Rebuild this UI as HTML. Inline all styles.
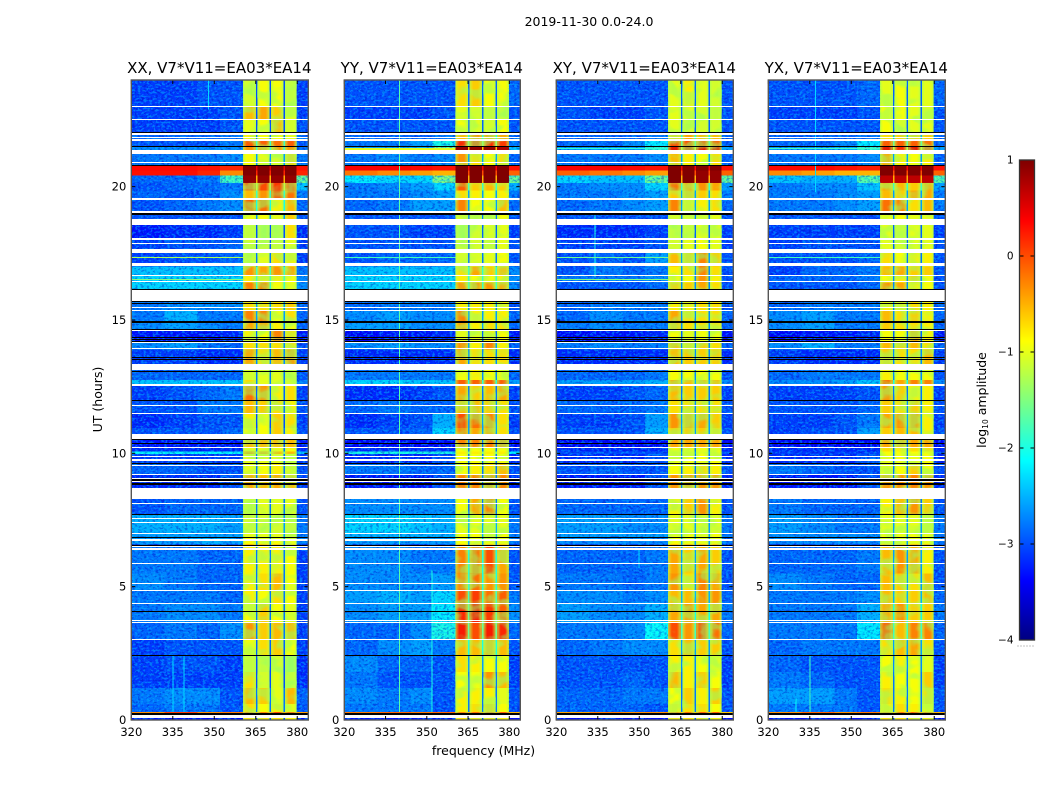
<!DOCTYPE html>
<html>
<head>
<meta charset="utf-8">
<title>2019-11-30 0.0-24.0</title>
<style>
html,body{margin:0;padding:0;background:#fff;}
svg{display:block;}
text{font-family:"DejaVu Sans","Liberation Sans",sans-serif;fill:#000;}
</style>
</head>
<body>
<svg id="chart" width="1050" height="800" viewBox="0 0 1050 800" xmlns="http://www.w3.org/2000/svg">
<defs id="defs">
<filter id="speckle-dark" x="0" y="0" width="100%" height="100%" color-interpolation-filters="sRGB">
<feTurbulence type="fractalNoise" baseFrequency="0.34 0.5" numOctaves="2" seed="4"/>
<feColorMatrix type="matrix" values="0 0 0 0 0  0 0 0 0 0.05  0 0 0 0 0.75  7 0 0 0 -3.6"/>
</filter>
<filter id="speckle-light" x="0" y="0" width="100%" height="100%" color-interpolation-filters="sRGB">
<feTurbulence type="fractalNoise" baseFrequency="0.34 0.5" numOctaves="2" seed="11"/>
<feColorMatrix type="matrix" values="0 0 0 0 0  0 0 0 0 0.72  0 0 0 0 1  7 0 0 0 -3.5"/>
</filter>
<filter id="band-blotch" x="0" y="0" width="100%" height="100%" color-interpolation-filters="sRGB">
<feTurbulence type="fractalNoise" baseFrequency="0.05 0.08" numOctaves="2" seed="7"/>
<feColorMatrix type="matrix" values="0 0 0 0 0.55  0 0 0 0 1  0 0 0 0 0.42  6 0 0 0 -2.8"/>
</filter>
<linearGradient id="band-edge" x1="0" y1="0" x2="1" y2="0">
<stop offset="0" stop-color="#a5ff5a" stop-opacity="0.75"/>
<stop offset="0.3" stop-color="#e8ff20" stop-opacity="0.1"/>
<stop offset="0.7" stop-color="#e8ff20" stop-opacity="0.1"/>
<stop offset="1" stop-color="#a5ff5a" stop-opacity="0.75"/>
</linearGradient>
</defs>
<text x="589" y="26" font-size="12.5" text-anchor="middle">2019-11-30 0.0-24.0</text>
<text x="483.5" y="755" font-size="12.5" text-anchor="middle">frequency (MHz)</text>
<text x="0" y="0" font-size="12.5" text-anchor="middle" transform="translate(102,399.5) rotate(-90)">UT (hours)</text>
<text x="0" y="0" font-size="12.5" text-anchor="middle" transform="translate(986,400) rotate(-90)">log<tspan font-size="7.5" dy="2">10</tspan><tspan dy="-2"> amplitude</tspan></text>
<g id="panels"></g>
<g id="colorbar"></g>
</svg>
<script>
// ---- chart data -----------------------------------------------------------
const panelTitles = ["XX, V7*V11=EA03*EA14","YY, V7*V11=EA03*EA14","XY, V7*V11=EA03*EA14","YX, V7*V11=EA03*EA14"];
const freqTicks = [320,335,350,365,380];
const utTicks = [0,5,10,15,20];
const colorbarTicks = [1,0,-1,-2,-3,-4];
// frequency channels of the level columns: [from MHz, to MHz]
const freqBins = [[320,332],[332,344],[344,352],[352,360.4],[360.4,365],[365.6,370],[370.6,375],[375.6,379.8],[365,365.6],[370,370.6],[375,375.6],[379.8,384]];
// row boundaries in UT hours, top to bottom
const utEdges = [24,23,22.5,22,21.75,21.5,21.3,20.8,20.6,20.42,20.14,19.85,19.5,19.03,18.57,18,17.52,17,16.65,16.4,15.7,15.35,14.9,14.6,14.15,13.9,13.35,12.75,12.55,12,11.5,10.95,10.55,10.2,10.06,9.98,9.6,9.2,8.28,7.7,7,6.85,6.58,6.5,5.5,4.85,4.35,3.65,3,2.4,1.8,1.2,0.6,0.3,0.2,0];
// flagged intervals [UT top, UT bottom]
const whiteFlags = [[23.025,22.98],[22.556,22.5],[22.01,21.94],[21.86,21.81],[21.77,21.71],[21.375,21.225],[20.925,20.89],[19.575,19.5],[19.09,19.03],[18.79,18.57],[18.06,18],[17.9,17.85],[17.66,17.52],[17.14,17.04],[16.67,16.62],[16.46,16.41],[16.14,15.72],[15.47,15.42],[15.375,15.34],[14.64,14.6],[14.19,14.14],[13.94,13.89],[13.35,13.125],[12.6,12.525],[11.8,11.75],[11.5,11.45],[10.725,10.54],[10.25,10.2],[9.9,9.85],[9.78,9.72],[9.57,9.525],[9.225,9.18],[9.06,9.03],[8.96,8.93],[8.69,8.28],[8.15,8.1],[7.59,7.56],[7.41,7.38],[7.02,6.99],[6.78,6.72],[6.525,6.49],[6.46,6.39],[5.89,5.85],[5.14,5.1],[4.875,4.84],[4.39,4.35],[3.74,3.71],[3.67,3.63],[3.04,3],[0.19,0.09]];
const blackFlags = [[22.05,22.01],[21.525,21.47],[20.81,20.76],[19.02,18.94],[16.16,16.14],[15.71,15.675],[15.65,15.6],[14.97,14.9],[14.66,14.64],[14.375,14.325],[14.3,14.27],[14.21,14.19],[13.62,13.6],[13.54,13.51],[13.1,13.08],[12,11.96],[10.53,10.5],[10.375,10.325],[9.63,9.59],[9.02,8.96],[8.89,8.81],[7.71,7.68],[6.86,6.83],[6.55,6.525],[4.09,4.06],[2.42,2.39],[0.25,0.19]];
// narrow interference channels per panel: [MHz, UT from, UT to, level]
const xxChannels = [[348,22.9,24,-2.3],[335,0.3,2.4,-2.3],[339,0.3,2.4,-2.3]];
const yyChannels = [[340,0.3,24,-1.7],[351.8,0.3,5.6,-2.0]];
const xyChannels = [[334,16.6,19,-2.0],[349.9,5.7,6.4,-2.3]];
const yxChannels = [[335,0.3,2.4,-1.8],[330,0.3,0.8,-2.1],[337,19.8,24,-2.3]];
// thin off-band streaks per panel: [UT top, UT bottom, level]
const xxStreaks = [[17.36,17.32,-1.3],[16.55,16.52,-1.5]];
const yyStreaks = [[21.45,21.38,-1.0],[17.36,17.32,-1.8]];
const xyStreaks = [[21.45,21.41,-1.9],[17.36,17.32,-1.6],[16.55,16.52,-1.5]];
const yxStreaks = [[21.45,21.41,-1.8],[17.36,17.32,-1.8]];
// log10 amplitude per row: 320-332,332-344,344-352,352-360, sub1..sub4, gap, 380-384
const xxLevels = [
[-3.1,-3.1,-3.0,-3.0,-1.1,-0.9,-0.9,-1.2,-2.6,-3.1],
[-3.1,-3.1,-3.1,-3.0,-0.5,-0.4,-0.6,-1.0,-2.6,-3.1],
[-3.1,-3.1,-3.1,-3.0,-1.0,-0.9,-0.5,-1.1,-2.6,-3.0],
[-2.9,-2.9,-2.9,-2.8,-0.8,-0.9,-0.9,-1.0,-2.4,-2.9],
[-3.0,-3.0,-3.0,-2.8,0.0,0.0,-0.1,0.0,-1.8,-3.0],
[-2.7,-2.7,-2.7,-2.7,-0.3,-0.3,-0.3,-0.3,-1.8,-2.8],
[-2.8,-2.8,-2.8,-2.7,-0.9,-1.0,-1.1,-0.6,-2.2,-2.8],
[0.35,0.35,0.3,0.2,1.0,1.0,1.0,1.0,0.5,0.3],
[0.3,0.3,0.2,-0.3,1.0,1.0,1.0,1.0,0.2,0.2],
[-2.9,-2.9,-2.8,-1.8,0.9,0.9,0.9,0.9,-0.5,-1.6],
[-3.0,-2.9,-2.9,-2.8,0.1,0.1,0.2,0.1,-1.2,-2.4],
[-2.9,-3.0,-2.9,-2.7,-0.5,-0.3,0.1,-0.1,-1.8,-2.8],
[-3.0,-2.9,-2.8,-2.7,0.0,-0.1,-0.8,-0.5,-2.0,-2.9],
[-3.0,-3.0,-3.0,-3.0,-0.9,-0.9,-1.0,-0.6,-2.2,-3.0],
[-3.3,-3.2,-3.2,-3.1,-1.2,-1.3,-1.3,-0.7,-2.6,-3.2],
[-3.1,-3.0,-3.0,-2.9,-1.1,-1.2,-1.2,-1.0,-2.6,-3.1],
[-3.1,-3.0,-3.0,-2.9,-1.1,-1.0,-0.7,-0.8,-2.4,-3.1],
[-2.4,-2.4,-2.4,-2.4,-0.3,-0.4,-0.3,-0.4,-1.8,-2.8],
[-2.3,-2.3,-2.3,-2.3,-0.8,-0.8,-0.8,-0.9,-1.8,-2.7],
[-2.3,-2.3,-2.3,-2.3,-0.2,-0.2,-0.9,-1.0,-1.8,-2.7],
[-2.8,-2.7,-2.7,-2.7,-0.7,-0.7,-0.7,-0.6,-2.2,-2.9],
[-2.8,-2.5,-2.8,-2.8,-0.2,-0.2,-0.9,-0.7,-2.2,-2.9],
[-2.7,-2.6,-2.7,-2.8,-0.4,-0.4,-0.8,-0.9,-2.3,-2.9],
[-3.3,-3.3,-3.3,-3.2,-0.8,-0.9,-0.2,-0.7,-2.5,-3.3],
[-2.7,-2.6,-2.8,-2.9,-0.7,-0.7,-0.7,-0.7,-2.3,-3.0],
[-3.1,-3.1,-3.2,-3.2,-0.4,-0.7,-0.5,-0.3,-2.3,-3.1],
[-2.9,-2.9,-2.9,-2.9,-1.1,-1.0,-1.0,-1.1,-2.4,-3.0],
[-2.4,-2.4,-2.4,-2.4,-0.7,-1.0,-1.0,-1.1,-2.3,-2.8],
[-3.1,-3.0,-2.9,-2.8,-0.1,-0.3,-0.8,-0.7,-2.5,-3.1],
[-3.0,-3.0,-2.8,-2.8,-0.5,-0.6,-0.7,-0.8,-2.4,-3.0],
[-3.2,-3.1,-3.0,-3.0,-0.8,-0.9,-0.6,-0.7,-2.6,-3.1],
[-3.0,-3.0,-3.0,-2.9,-0.9,-0.9,-0.6,-0.8,-2.4,-3.0],
[-3.3,-3.3,-3.3,-3.3,-0.5,-0.5,-0.5,-0.5,-2.5,-3.3],
[-3.2,-3.2,-3.2,-3.2,-0.9,-0.9,-0.9,-0.9,-2.4,-3.2],
[-2.1,-2.1,-2.1,-2.1,-0.3,-0.4,-0.5,-0.5,-1.6,-2.4],
[-3.1,-3.1,-3.1,-3.1,-1.0,-1.0,-1.0,-1.0,-2.4,-3.1],
[-2.9,-2.9,-3.0,-3.0,-1.0,-0.9,-0.8,-0.9,-2.4,-3.0],
[-3.2,-3.2,-3.2,-3.0,-0.4,-0.5,-0.4,-0.5,-2.4,-3.1],
[-3.0,-2.9,-2.9,-2.9,-1.1,-1.0,-1.0,-1.0,-2.4,-3.0],
[-2.5,-2.5,-2.5,-2.6,-1.1,-1.1,-1.1,-1.2,-2.2,-2.8],
[-2.6,-2.6,-2.6,-2.6,-1.0,-1.0,-1.0,-1.0,-2.2,-2.8],
[-2.6,-2.6,-2.5,-2.6,-0.9,-1.0,-0.9,-1.0,-2.2,-2.8],
[-3.6,-3.5,-3.5,-3.5,-0.1,-0.2,-0.3,-0.4,-2.4,-3.6],
[-2.8,-2.8,-2.9,-2.9,-0.8,-0.8,-0.8,-0.9,-2.4,-3.1],
[-2.7,-2.8,-2.9,-2.9,-0.8,-0.7,-0.5,-0.9,-2.4,-3.1],
[-2.8,-2.8,-2.8,-2.9,-0.8,-0.9,-0.7,-0.9,-2.4,-3.1],
[-2.8,-2.7,-2.7,-2.8,-0.9,-0.6,-0.9,-1.0,-2.4,-3.1],
[-2.9,-2.8,-2.9,-2.7,-0.3,-0.6,-0.5,-0.5,-2.4,-3.1],
[-3.1,-3.0,-3.0,-3.0,-0.9,-0.7,-0.6,-0.9,-2.5,-3.1],
[-3.1,-3.0,-3.0,-3.1,-1.2,-1.2,-1.1,-1.4,-2.6,-3.2],
[-3.1,-3.1,-3.1,-3.1,-0.7,-1.1,-1.0,-1.2,-2.6,-3.2],
[-2.8,-2.7,-2.7,-3.0,-0.5,-0.6,-1.0,-0.5,-2.4,-2.9],
[-2.9,-2.8,-2.8,-3.0,-0.7,-0.9,-0.8,-1.0,-2.4,-3.0],
[-0.3,0.1,-0.3,-0.2,-0.1,-0.2,0.1,0.0,-0.5,-0.4],
[-3.3,-3.3,-3.3,-3.3,-0.7,-0.7,-0.7,-0.8,-2.6,-3.3]];
const yyLevels = [
[-3.0,-3.0,-3.0,-3.0,-0.7,-0.6,-0.9,-0.9,-2.5,-2.9],
[-3.1,-3.1,-3.1,-3.0,-1.0,-1.1,-1.2,-1.2,-2.5,-3.0],
[-3.0,-3.0,-3.0,-3.0,-0.9,-1.0,-1.1,-0.9,-2.5,-3.0],
[-2.9,-2.9,-2.9,-2.8,-0.5,-0.3,-0.3,-0.4,-2.0,-2.9],
[-2.8,-2.8,-2.6,-2.0,0.3,0.3,0.3,0.2,-1.4,-2.8],
[-2.6,-2.6,-2.5,-1.6,0.9,0.9,0.9,0.8,-0.6,-2.4],
[-2.8,-2.7,-2.8,-2.7,-0.3,-0.7,-0.9,-0.7,-2.2,-2.9],
[0.4,0.4,0.35,0.3,1.0,1.0,1.0,1.0,0.4,0.3],
[-0.2,-0.3,-0.4,-0.5,1.0,1.0,1.0,1.0,0.0,-0.1],
[-2.2,-2.3,-2.3,-1.5,1.0,1.0,1.0,1.0,-0.5,-1.6],
[-2.8,-2.7,-2.6,-2.3,0.0,-0.6,-0.5,-0.6,-1.8,-2.5],
[-2.8,-2.8,-2.7,-2.6,-0.7,-0.8,-0.9,-0.8,-2.2,-2.8],
[-2.9,-2.8,-2.6,-2.6,-0.2,-0.9,-0.9,-0.5,-2.2,-2.9],
[-3.0,-3.0,-3.0,-3.0,-1.0,-1.1,-1.1,-0.9,-2.4,-3.0],
[-3.0,-3.0,-3.1,-3.1,-1.3,-1.1,-1.0,-1.0,-2.5,-3.1],
[-3.0,-3.0,-3.0,-3.0,-1.1,-1.1,-1.2,-1.0,-2.5,-3.0],
[-3.0,-2.9,-2.9,-2.9,-1.1,-1.0,-1.0,-0.9,-2.4,-3.0],
[-2.4,-2.4,-2.4,-2.4,-0.7,-0.4,-0.6,-0.5,-1.9,-2.7],
[-2.3,-2.3,-2.3,-2.3,-0.8,-0.9,-0.9,-0.8,-1.9,-2.7],
[-2.3,-2.3,-2.3,-2.3,-0.3,-0.3,-0.3,-0.4,-1.8,-2.7],
[-2.9,-2.8,-2.8,-2.8,-0.8,-0.8,-0.8,-0.8,-2.3,-3.0],
[-2.7,-2.6,-2.7,-2.7,-0.2,-0.8,-0.8,-0.8,-2.2,-2.9],
[-2.6,-2.6,-2.7,-2.7,-0.4,-0.8,-0.7,-0.7,-2.2,-2.9],
[-3.4,-3.3,-3.3,-3.2,-1.0,-1.0,-0.8,-0.9,-2.5,-3.3],
[-2.7,-2.6,-2.7,-2.7,-0.3,-0.8,-0.2,-0.8,-2.2,-2.9],
[-3.2,-3.2,-3.2,-3.2,-0.4,-0.7,-0.7,-0.7,-2.3,-3.2],
[-2.8,-2.8,-2.8,-2.8,-0.9,-0.8,-0.9,-0.9,-2.3,-2.9],
[-2.3,-2.3,-2.4,-2.4,0.0,0.0,0.0,0.0,-1.9,-2.6],
[-3.2,-3.2,-3.1,-3.0,-0.4,-0.6,-0.5,-0.4,-2.4,-3.1],
[-2.9,-2.8,-2.9,-2.9,-0.5,-0.5,-0.6,-0.7,-2.3,-3.0],
[-3.2,-3.1,-3.0,-2.5,0.1,-0.1,-0.2,-0.7,-2.2,-3.1],
[-3.0,-3.0,-2.9,-2.3,-0.2,-0.4,-0.4,-0.7,-2.2,-3.0],
[-3.4,-3.4,-3.4,-3.4,-0.2,-0.2,-0.2,-0.2,-2.4,-3.4],
[-3.2,-3.2,-3.2,-3.2,-0.9,-0.9,-0.9,-0.9,-2.4,-3.2],
[-2.0,-2.0,-2.0,-2.0,-0.8,-0.8,-0.8,-0.8,-1.6,-2.2],
[-3.2,-3.2,-3.2,-3.0,-0.9,-0.9,-0.9,-0.9,-2.4,-3.2],
[-2.8,-2.8,-2.9,-2.9,-0.9,-0.8,-0.7,-0.5,-2.4,-3.0],
[-3.3,-3.3,-3.3,-3.0,-0.2,-0.2,-0.2,-0.2,-2.4,-3.2],
[-2.7,-2.7,-2.7,-2.7,-0.9,-0.4,-0.2,-0.9,-2.4,-3.0],
[-2.3,-2.3,-2.4,-2.5,-1.0,-1.0,-1.0,-1.0,-2.1,-2.8],
[-2.5,-2.5,-2.5,-2.5,-0.9,-0.9,-0.9,-0.9,-2.1,-2.8],
[-2.6,-2.6,-2.6,-2.6,-0.9,-1.0,-1.0,-1.0,-2.2,-2.8],
[-3.6,-3.5,-3.5,-3.5,-0.3,-0.3,-0.3,-0.3,-2.2,-3.6],
[-2.7,-2.7,-2.8,-2.8,-0.2,-0.1,0.1,-0.4,-2.0,-3.0],
[-2.7,-2.7,-2.7,-2.6,-0.2,-0.1,-0.3,-0.3,-2.0,-3.0],
[-2.6,-2.5,-2.6,-2.3,0.1,0.2,-0.1,0.0,-1.8,-2.8],
[-2.7,-2.6,-2.6,-2.2,0.3,0.4,0.2,0.0,-1.6,-2.7],
[-2.9,-2.9,-2.7,-2.0,0.4,0.1,0.4,0.3,-1.6,-2.9],
[-2.9,-2.7,-2.6,-2.8,-0.5,-0.5,-0.4,-0.5,-2.0,-3.0],
[-2.7,-2.9,-2.9,-3.0,-0.7,-0.8,-0.9,-0.9,-2.2,-3.1],
[-2.8,-3.0,-3.0,-3.0,-0.9,-0.9,-0.3,-0.5,-2.4,-3.1],
[-2.7,-2.8,-2.7,-3.0,-0.8,-0.8,-0.8,-1.0,-2.4,-3.0],
[-2.8,-2.8,-2.8,-3.0,-0.8,-0.7,-0.6,-0.9,-2.4,-3.0],
[-0.2,-0.1,-0.2,-0.1,-0.2,-0.1,0.1,0.0,-0.5,-0.5],
[-3.3,-3.3,-3.3,-3.3,-0.7,-0.7,-0.7,-0.8,-2.6,-3.3]];
const xyLevels = [
[-3.0,-3.0,-3.0,-3.0,-1.0,-0.8,-1.0,-1.1,-2.5,-3.0],
[-3.0,-3.1,-3.1,-3.0,-1.0,-1.0,-1.1,-1.2,-2.5,-3.0],
[-3.0,-3.0,-3.0,-3.0,-1.0,-1.1,-1.1,-1.1,-2.5,-3.0],
[-2.9,-2.9,-2.9,-2.8,-0.6,-0.4,-0.5,-0.5,-2.0,-2.9],
[-2.9,-2.9,-2.7,-2.2,0.1,0.1,0.1,0.0,-1.6,-2.9],
[-2.6,-2.6,-2.6,-1.9,0.5,0.5,0.5,0.5,-1.2,-2.6],
[-2.8,-2.8,-2.8,-2.7,-0.5,-0.8,-0.9,-0.7,-2.2,-2.9],
[0.4,0.4,0.35,0.3,1.0,1.0,1.0,1.0,0.4,0.3],
[-0.1,-0.2,-0.3,-0.4,1.0,1.0,0.9,0.9,0.0,-0.1],
[-2.3,-2.4,-2.4,-1.6,1.0,1.0,0.9,0.9,-0.5,-1.6],
[-2.8,-2.7,-2.7,-2.3,-0.1,-0.4,-0.3,-0.4,-1.8,-2.6],
[-2.8,-2.8,-2.7,-2.6,-0.6,-0.5,-0.6,-0.7,-2.2,-2.8],
[-2.9,-2.8,-2.7,-2.6,-0.2,-0.8,-0.8,-0.7,-2.2,-2.9],
[-3.0,-3.0,-3.0,-3.0,-1.1,-1.1,-1.0,-1.0,-2.4,-3.0],
[-3.2,-3.2,-3.2,-3.1,-1.2,-1.2,-0.9,-1.0,-2.5,-3.1],
[-3.1,-3.1,-3.1,-3.0,-1.1,-1.0,-0.9,-1.0,-2.5,-3.1],
[-3.0,-2.9,-3.0,-2.6,-0.5,-0.6,-0.2,-0.6,-2.2,-3.0],
[-3.0,-2.8,-2.9,-2.8,-0.8,-0.7,-0.2,-0.7,-2.3,-3.0],
[-2.8,-2.8,-2.8,-2.7,-0.9,-0.9,-0.3,-0.8,-2.3,-3.0],
[-3.0,-3.0,-3.0,-2.9,-0.6,-0.6,-0.4,-0.7,-2.3,-3.0],
[-2.9,-2.8,-2.8,-2.8,-0.8,-0.8,-0.7,-0.7,-2.3,-3.0],
[-2.9,-2.7,-2.8,-2.8,-0.4,-0.7,-0.7,-0.7,-2.3,-2.9],
[-2.8,-2.7,-2.8,-2.8,-0.5,-0.7,-0.7,-0.7,-2.3,-2.9],
[-3.4,-3.3,-3.3,-3.2,-0.9,-1.0,-0.9,-0.9,-2.5,-3.3],
[-2.8,-2.7,-2.8,-2.8,-0.5,-0.7,-0.6,-0.7,-2.3,-2.9],
[-3.2,-3.2,-3.2,-3.2,-0.5,-0.6,-0.6,-0.6,-2.3,-3.2],
[-2.9,-2.9,-2.9,-2.8,-0.9,-0.9,-0.9,-0.9,-2.3,-3.0],
[-2.6,-2.6,-2.6,-2.5,-0.4,-0.5,-0.5,-0.5,-2.1,-2.7],
[-3.1,-3.1,-3.0,-2.9,-0.5,-0.6,-0.6,-0.6,-2.4,-3.1],
[-2.9,-2.9,-2.9,-2.8,-0.7,-0.7,-0.7,-0.7,-2.3,-3.0],
[-3.1,-3.1,-3.0,-2.6,-0.3,-0.4,-0.4,-0.6,-2.2,-3.1],
[-3.0,-3.0,-3.0,-2.5,-0.6,-0.6,-0.6,-0.7,-2.2,-3.0],
[-3.4,-3.4,-3.4,-3.4,-0.4,-0.4,-0.4,-0.4,-2.4,-3.4],
[-3.2,-3.2,-3.2,-3.2,-0.9,-0.9,-0.9,-0.9,-2.4,-3.2],
[-3.0,-3.0,-3.0,-3.0,-0.9,-0.9,-0.9,-0.9,-2.2,-3.0],
[-3.2,-3.2,-3.2,-3.0,-0.9,-0.9,-0.9,-0.9,-2.4,-3.2],
[-3.0,-2.9,-3.0,-3.0,-0.9,-0.8,-0.7,-0.8,-2.4,-3.0],
[-3.3,-3.3,-3.3,-3.0,-0.3,-0.3,-0.3,-0.3,-2.4,-3.2],
[-2.9,-2.9,-2.9,-2.9,-0.8,-0.6,-0.3,-0.8,-2.4,-3.0],
[-2.6,-2.6,-2.7,-2.7,-1.0,-1.0,-1.0,-1.0,-2.2,-2.8],
[-2.6,-2.6,-2.6,-2.6,-0.9,-0.9,-0.9,-0.9,-2.2,-2.8],
[-2.7,-2.7,-2.7,-2.7,-0.9,-1.0,-1.0,-1.0,-2.2,-2.8],
[-3.6,-3.5,-3.5,-3.5,-0.2,-0.2,-0.2,-0.2,-2.2,-3.6],
[-2.9,-2.9,-2.9,-2.8,-0.4,-0.6,-0.4,-0.6,-2.2,-3.0],
[-2.8,-2.8,-2.9,-2.8,-0.3,-0.7,-0.2,-0.4,-2.2,-3.0],
[-2.7,-2.7,-2.8,-2.7,-0.5,-0.5,-0.3,-0.3,-2.1,-2.9],
[-2.6,-2.7,-2.7,-2.5,-0.4,-0.3,-0.4,-0.4,-2.0,-2.8],
[-2.8,-2.8,-2.7,-2.1,0.1,-0.3,0.1,-0.1,-1.8,-2.9],
[-2.9,-2.8,-2.7,-2.7,-0.7,-0.5,-0.6,-0.6,-2.2,-3.0],
[-3.0,-3.0,-3.0,-3.0,-0.8,-0.8,-0.9,-1.0,-2.3,-3.1],
[-3.0,-3.0,-2.9,-3.0,-0.5,-0.8,-0.6,-0.9,-2.4,-3.1],
[-2.9,-2.9,-2.8,-2.8,-0.9,-0.6,-0.8,-0.6,-2.4,-3.0],
[-2.9,-2.9,-2.9,-3.0,-0.8,-0.7,-0.7,-0.9,-2.4,-3.0],
[-0.4,-0.2,-0.3,-0.3,-0.1,-0.1,0.0,0.0,-0.6,-0.6],
[-3.3,-3.3,-3.3,-3.3,-0.7,-0.7,-0.7,-0.8,-2.6,-3.3]];
const yxLevels = [
[-3.0,-3.0,-3.0,-2.9,-1.0,-0.9,-1.0,-1.0,-2.5,-2.9],
[-3.1,-3.1,-3.1,-3.0,-0.9,-0.9,-1.0,-1.0,-2.5,-3.0],
[-3.0,-3.0,-3.0,-3.0,-0.9,-1.1,-1.0,-1.0,-2.5,-3.0],
[-2.9,-2.9,-2.9,-2.8,-0.7,-0.6,-0.6,-0.6,-2.1,-2.9],
[-2.9,-2.9,-2.7,-2.2,0.0,0.0,0.0,-0.1,-1.6,-2.9],
[-2.6,-2.6,-2.5,-1.9,0.5,0.3,0.5,0.3,-1.2,-2.6],
[-2.8,-2.8,-2.8,-2.7,-0.4,-0.8,-0.9,-0.8,-2.2,-2.9],
[0.35,0.35,0.3,0.25,1.0,1.0,1.0,1.0,0.4,0.3],
[-0.3,-0.4,-0.5,-0.5,1.0,1.0,1.0,1.0,0.0,-0.1],
[-2.4,-2.5,-2.5,-1.7,0.7,0.7,0.7,0.7,-0.5,-1.7],
[-2.8,-2.7,-2.7,-2.4,-0.4,-0.5,-0.6,-0.4,-1.8,-2.6],
[-2.8,-2.8,-2.7,-2.6,-0.5,-0.6,-0.4,-0.4,-2.2,-2.8],
[-2.8,-2.8,-2.7,-2.6,-0.1,-0.2,-0.7,-0.5,-2.2,-2.8],
[-3.0,-3.0,-3.0,-3.0,-0.9,-0.9,-1.0,-0.9,-2.4,-3.0],
[-3.1,-3.1,-3.1,-3.1,-1.0,-1.2,-1.0,-1.0,-2.5,-3.1],
[-3.1,-3.0,-3.0,-3.0,-1.0,-1.1,-1.0,-1.0,-2.5,-3.0],
[-3.0,-3.0,-3.0,-2.9,-0.7,-0.9,-0.8,-0.8,-2.4,-3.0],
[-3.1,-2.9,-2.9,-2.8,-0.5,-0.4,-0.6,-0.6,-2.3,-3.0],
[-2.9,-2.9,-2.9,-2.8,-0.9,-0.8,-0.6,-0.9,-2.3,-3.0],
[-3.0,-3.0,-3.0,-2.9,-0.3,-0.4,-0.8,-0.9,-2.3,-3.0],
[-2.9,-2.8,-2.8,-2.8,-0.8,-0.8,-0.7,-0.8,-2.3,-2.9],
[-2.7,-2.6,-2.8,-2.8,-0.5,-0.7,-0.6,-0.8,-2.3,-2.9],
[-2.7,-2.6,-2.8,-2.8,-0.6,-0.7,-0.7,-0.8,-2.3,-2.9],
[-3.4,-3.3,-3.3,-3.2,-0.9,-0.9,-0.4,-0.8,-2.5,-3.3],
[-2.7,-2.5,-2.8,-2.8,-0.5,-0.6,-0.5,-0.7,-2.3,-2.9],
[-3.1,-3.2,-3.2,-3.2,-0.6,-0.7,-0.7,-0.5,-2.3,-3.1],
[-2.9,-2.8,-2.8,-2.8,-0.8,-0.9,-0.9,-0.9,-2.3,-3.0],
[-2.7,-2.7,-2.6,-2.4,-0.1,-0.4,-0.2,-0.2,-2.0,-2.7],
[-3.1,-3.1,-3.1,-3.0,-0.3,-0.6,-0.8,-0.8,-2.4,-3.1],
[-3.0,-3.0,-3.0,-2.9,-0.6,-0.7,-0.6,-0.8,-2.3,-3.0],
[-3.1,-3.1,-3.0,-2.8,-0.4,-0.3,-0.3,-0.8,-2.2,-3.1],
[-3.1,-3.0,-3.0,-2.6,-0.6,-0.5,-0.5,-0.8,-2.2,-3.0],
[-3.4,-3.4,-3.4,-3.4,-0.4,-0.4,-0.4,-0.4,-2.4,-3.4],
[-3.2,-3.2,-3.2,-3.2,-0.7,-0.8,-0.7,-0.7,-2.4,-3.2],
[-3.1,-3.1,-3.1,-3.1,-0.9,-0.9,-0.9,-0.9,-2.3,-3.1],
[-3.2,-3.2,-3.2,-3.0,-0.9,-0.9,-0.9,-0.9,-2.4,-3.2],
[-2.8,-2.9,-3.0,-3.0,-0.9,-0.9,-0.6,-0.9,-2.4,-3.0],
[-3.3,-3.3,-3.3,-3.0,-0.3,-0.3,-0.2,-0.3,-2.4,-3.2],
[-2.8,-2.9,-2.9,-2.9,-0.8,-0.5,-0.3,-0.6,-2.4,-3.0],
[-2.6,-2.7,-2.8,-2.8,-1.0,-1.0,-1.0,-1.0,-2.2,-2.8],
[-2.7,-2.7,-2.7,-2.7,-0.9,-0.9,-0.9,-0.9,-2.2,-2.8],
[-2.7,-2.7,-2.7,-2.7,-0.9,-1.0,-1.0,-1.0,-2.2,-2.8],
[-3.6,-3.5,-3.5,-3.5,-0.2,-0.2,-0.2,-0.2,-2.2,-3.6],
[-2.9,-2.9,-2.9,-2.8,-0.5,-0.3,-0.4,-0.8,-2.2,-3.0],
[-2.7,-2.8,-2.9,-2.9,-0.5,-0.6,-0.7,-0.5,-2.2,-3.0],
[-2.8,-2.8,-2.8,-2.7,-0.5,-0.6,-0.6,-0.5,-2.1,-2.9],
[-2.8,-2.8,-2.8,-2.5,-0.4,-0.3,-0.6,-0.6,-2.0,-2.8],
[-2.8,-2.8,-2.8,-2.2,0.0,-0.5,-0.2,-0.2,-1.8,-2.9],
[-2.9,-2.8,-2.8,-2.8,-0.7,-0.5,-0.4,-0.7,-2.2,-3.0],
[-2.9,-3.0,-3.0,-3.0,-0.9,-0.8,-0.9,-1.0,-2.3,-3.1],
[-2.8,-2.9,-3.0,-3.0,-0.8,-0.9,-0.9,-0.6,-2.4,-3.1],
[-2.6,-2.6,-2.8,-3.0,-0.7,-0.8,-0.9,-0.7,-2.4,-3.0],
[-2.8,-2.8,-2.8,-3.0,-0.8,-0.7,-0.8,-0.9,-2.4,-3.0],
[-0.3,-0.1,-0.3,-0.2,-0.2,-0.1,0.0,-0.1,-0.6,-0.5],
[-3.3,-3.3,-3.3,-3.3,-0.7,-0.7,-0.7,-0.8,-2.6,-3.3]];
const allLevels = [xxLevels,yyLevels,xyLevels,yxLevels];
const allChannels = [xxChannels,yyChannels,xyChannels,yxChannels];
const allStreaks = [xxStreaks,yyStreaks,xyStreaks,yxStreaks];
// bin index to level column index
const binColumns = [0,1,2,3,4,5,6,7,8,8,8,9];
// the channels between subbands read this much lower than the stored column
const gapDepth = -0.4;

// ---- rendering -------------------------------------------------------------
const NS = 'http://www.w3.org/2000/svg';
const panelLefts = [131.3,344.3,556.3,768.3];
const panelRights = [308.3,520.3,733.3,945.3];
const plotTop = 80, plotBottom = 720;
const fMin = 320, fMax = 384, utMax = 24, vMin = -4, vMax = 1;

function xScale(p,f){return panelLefts[p]+(f-fMin)/(fMax-fMin)*(panelRights[p]-panelLefts[p]);}
function yScale(t){return plotBottom-t/utMax*(plotBottom-plotTop);}
function clamp01(a){return Math.max(0,Math.min(1,a));}
function jet(v){
  const t=clamp01((v-vMin)/(vMax-vMin));
  const r=clamp01(Math.min(4*t-1.5,-4*t+4.5));
  const g=clamp01(Math.min(4*t-0.5,-4*t+3.5));
  const b=clamp01(Math.min(4*t+0.5,-4*t+2.5));
  return 'rgb('+Math.round(r*255)+','+Math.round(g*255)+','+Math.round(b*255)+')';
}
function mk(tag,parent,attrs){
  const el=document.createElementNS(NS,tag);
  for(const k in attrs){el.setAttribute(k,attrs[k]);}
  parent.appendChild(el);
  return el;
}
function rowClip(id,p,levels,column,test){
  const clip=mk('clipPath',document.getElementById('defs'),{id:id});
  levels.forEach(function(row,r){
    if(test(row[column])){
      mk('rect',clip,{x:panelLefts[p],y:yScale(utEdges[r]),width:panelRights[p]-panelLefts[p],height:yScale(utEdges[r+1])-yScale(utEdges[r])});
    }
  });
}
function flagBar(parent,p,span,fill,name){
  const y0=Math.round(yScale(span[0]));
  const h=Math.max(1,Math.round(yScale(span[1])-yScale(span[0])));
  const f=mk('rect',parent,{x:panelLefts[p],y:y0,width:panelRights[p]-panelLefts[p],height:h,fill:fill,'shape-rendering':'crispEdges'});
  
  
}
const panelsGroup=document.getElementById('panels');
panelTitles.forEach(function(title,p){
  const g=mk('g',panelsGroup,{});
  
  
  const heat=mk('g',g,{'shape-rendering':'crispEdges'});
  
  
  const levels=allLevels[p];
  levels.forEach(function(row,r){
    freqBins.forEach(function(bin,b){
      const x0=xScale(p,bin[0]),x1=xScale(p,bin[1]);
      const y0=yScale(utEdges[r]),y1=yScale(utEdges[r+1]);
      const col=binColumns[b];
      const value=col===8&&row[8]<-2?row[8]+gapDepth:row[col];
      const cell=mk('rect',heat,{x:x0,y:y0,width:x1-x0,height:y1-y0,fill:jet(value)});
      
      
    });
  });
  // speckle texture over the off-band background, skipping the saturated rows
  rowClip('bg-clip-'+p,p,levels,0,function(v){return v<-1.5;});
  const bgTex=mk('g',g,{'clip-path':'url(#bg-clip-'+p+')'});
  
  
  [[fMin,360.4],[379.8,fMax]].forEach(function(span){
    ['speckle-dark','speckle-light'].forEach(function(id){
      const s=mk('rect',bgTex,{x:xScale(p,span[0]),y:plotTop,width:xScale(p,span[1])-xScale(p,span[0]),height:plotBottom-plotTop,filter:'url(#'+id+')',opacity:id==='speckle-dark'?0.4:0.5});
      
      
    });
  });
  // subband shading: greener edges and blotches, skipping the saturated rows
  rowClip('band-clip-'+p,p,levels,4,function(v){return v<0.6;});
  const bandTex=mk('g',g,{'clip-path':'url(#band-clip-'+p+')'});
  
  
  [4,5,6,7].forEach(function(b){
    const x0=xScale(p,freqBins[b][0]),x1=xScale(p,freqBins[b][1]);
    const blotch=mk('rect',bandTex,{x:x0,y:plotTop,width:x1-x0,height:plotBottom-plotTop,filter:'url(#band-blotch)',opacity:0.55});
    
    
    const edge=mk('rect',bandTex,{x:x0,y:plotTop,width:x1-x0,height:plotBottom-plotTop,fill:'url(#band-edge)'});
    
    
  });
  allChannels[p].forEach(function(c){
    const line=mk('rect',g,{x:xScale(p,c[0])-0.5,y:yScale(c[2]),width:1,height:yScale(c[1])-yScale(c[2]),fill:jet(c[3]),'shape-rendering':'crispEdges'});
    
    
  });
  allStreaks[p].forEach(function(s){
    const y0=Math.round(yScale(s[0]));
    const streak=mk('rect',g,{x:panelLefts[p],y:y0,width:xScale(p,360.4)-panelLefts[p],height:Math.max(1,Math.round(yScale(s[1])-yScale(s[0]))),fill:jet(s[2]),'shape-rendering':'crispEdges'});
    
    
  });
  whiteFlags.forEach(function(w){flagBar(g,p,w,'#fff','flagged-gap');});
  blackFlags.forEach(function(w){flagBar(g,p,w,'#000','flagged-line');});
  freqTicks.forEach(function(f){
    const x=xScale(p,f);
    const t1=mk('line',g,{x1:x,x2:x,y1:plotBottom,y2:plotBottom-4,stroke:'#000','stroke-width':1});
    
    
    const t2=mk('line',g,{x1:x,x2:x,y1:plotTop,y2:plotTop+4,stroke:'#000','stroke-width':1});
    
    
    const lab=mk('text',g,{x:x,y:736,'font-size':11.5,'text-anchor':'middle'});
    
    
    lab.textContent=f;
  });
  utTicks.forEach(function(u){
    const y=yScale(u);
    const t1=mk('line',g,{x1:panelLefts[p],x2:panelLefts[p]+4,y1:y,y2:y,stroke:'#000','stroke-width':1});
    
    
    const t2=mk('line',g,{x1:panelRights[p],x2:panelRights[p]-4,y1:y,y2:y,stroke:'#000','stroke-width':1});
    
    
    const lab=mk('text',g,{x:panelLefts[p]-5,y:y+4,'font-size':11.5,'text-anchor':'end'});
    
    
    lab.textContent=u;
  });
  const frame=mk('rect',g,{x:panelLefts[p],y:plotTop,width:panelRights[p]-panelLefts[p],height:plotBottom-plotTop,fill:'none',stroke:'#555','stroke-width':1.4});
  
  
  const head=mk('text',g,{x:(panelLefts[p]+panelRights[p])/2-0.5,y:73,'font-size':15,'text-anchor':'middle'});
  
  
  head.textContent=title;
});

// colorbar
const cbLeft=1019.5,cbRight=1034.5,cbTop=160,cbBottom=640;
function cbY(v){return cbBottom-(v-vMin)/(vMax-vMin)*(cbBottom-cbTop);}
const cb=document.getElementById('colorbar');
for(let i=0;i<240;i++){
  const v0=vMin+(vMax-vMin)*i/240,v1=vMin+(vMax-vMin)*(i+1)/240;
  const seg=mk('rect',cb,{x:cbLeft,y:cbY(v1),width:cbRight-cbLeft,height:cbY(v0)-cbY(v1)+0.4,fill:jet((v0+v1)/2),'shape-rendering':'crispEdges'});
  
  
}
colorbarTicks.forEach(function(v){
  const y=cbY(v);
  const a=mk('line',cb,{x1:cbLeft,x2:cbLeft+4,y1:y,y2:y,stroke:'#000','stroke-width':1});
  
  
  const c=mk('line',cb,{x1:cbRight,x2:cbRight-4,y1:y,y2:y,stroke:'#000','stroke-width':1});
  
  
  const lab=mk('text',cb,{x:1013.5,y:y+3.5,'font-size':10.5,'text-anchor':'end'});
  
  
  lab.textContent=String(v).replace('-','\u2212');
});
const cbFrame=mk('rect',cb,{x:cbLeft,y:cbTop,width:cbRight-cbLeft,height:cbBottom-cbTop,fill:'none',stroke:'#333','stroke-width':1.3});


const dots=mk('line',cb,{x1:1017.5,x2:1034.5,y1:646,y2:646,stroke:'#888','stroke-width':1,'stroke-dasharray':'1 2'});


</script>
</body>
</html>
